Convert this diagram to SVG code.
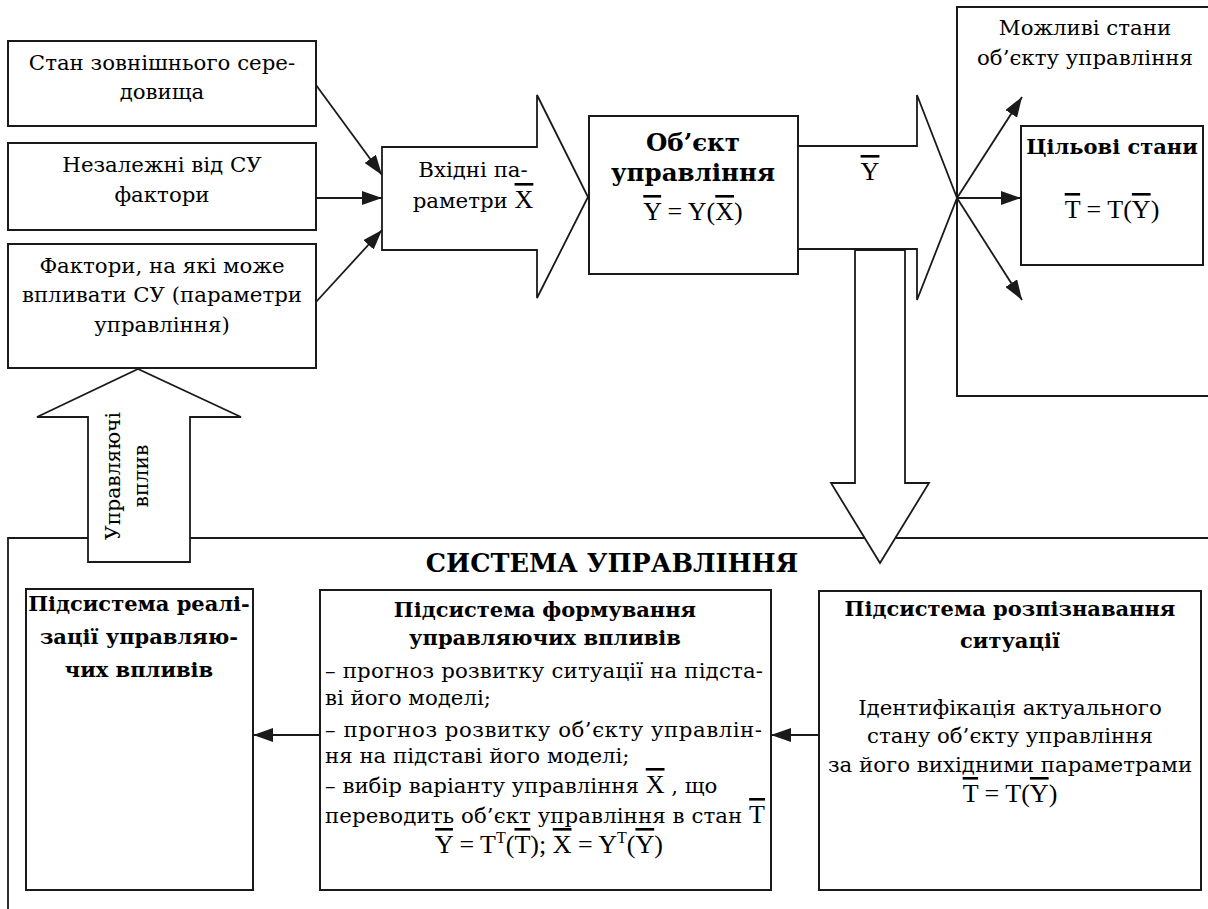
<svg xmlns="http://www.w3.org/2000/svg" width="1208" height="909" viewBox="0 0 1208 909">
<defs>
<marker id="ah" viewBox="0 0 20 14" refX="20" refY="7" markerWidth="20" markerHeight="14" markerUnits="userSpaceOnUse" orient="auto">
<path d="M0,0 L20,7 L0,14 z" fill="#1a1a1a"/>
</marker>
</defs>
<rect width="1208" height="909" fill="#fff"/>

<g id="states-area" font-family="DejaVu Serif" font-size="21.3" text-anchor="middle">
<rect x="957" y="7" width="270" height="389" fill="#fff" stroke="#1a1a1a" stroke-width="2"/>
<text x="1085" y="35">Можливі стани</text>
<text x="1085" y="65">об’єкту управління</text>
</g>

<g id="system" font-family="DejaVu Serif" text-anchor="middle">
<path d="M1230,538 H8 V930" fill="none" stroke="#1a1a1a" stroke-width="1.8"/>
<text x="612" y="572" font-size="25.5" font-weight="bold">СИСТЕМА УПРАВЛІННЯ</text>
</g>

<g id="n-env" font-family="DejaVu Serif" font-size="21.3" text-anchor="middle">
<rect x="8" y="41" width="308" height="85" fill="#fff" stroke="#1a1a1a" stroke-width="2"/>
<text x="162" y="70">Стан зовнішнього сере-</text>
<text x="162" y="99">довища</text>
</g>
<g id="n-indep" font-family="DejaVu Serif" font-size="21.3" text-anchor="middle">
<rect x="8" y="143" width="308" height="87" fill="#fff" stroke="#1a1a1a" stroke-width="2"/>
<text x="162" y="172">Незалежні від СУ</text>
<text x="162" y="202">фактори</text>
</g>
<g id="n-ctrlfactors" font-family="DejaVu Serif" font-size="21.3" text-anchor="middle">
<rect x="8" y="244" width="308" height="124" fill="#fff" stroke="#1a1a1a" stroke-width="2"/>
<text x="162" y="273">Фактори, на які може</text>
<text x="162" y="302">впливати СУ (параметри</text>
<text x="162" y="332">управління)</text>
</g>

<g id="n-input" font-family="DejaVu Serif" font-size="21.3" text-anchor="middle">
<polygon points="382,147 537,147 537,95 588,197 537,298 537,250 382,250" fill="#fff" stroke="#1a1a1a" stroke-width="1.8"/>
<text x="473" y="177">Вхідні па-</text>
<text x="473" y="208">раметри <tspan font-family="Liberation Serif" font-size="26" text-decoration="overline">X</tspan></text>
</g>

<g id="n-object" text-anchor="middle">
<rect x="589" y="116" width="209" height="158" fill="#fff" stroke="#1a1a1a" stroke-width="2"/>
<text x="693" y="151" font-family="DejaVu Serif" font-size="24.5" font-weight="bold">Об’єкт</text>
<text x="693" y="181" font-family="DejaVu Serif" font-size="24.5" font-weight="bold">управління</text>
<text x="693" y="220" font-family="Liberation Serif" font-size="26"><tspan text-decoration="overline">Y</tspan> = Y(<tspan text-decoration="overline">X</tspan>)</text>
</g>

<g id="n-output" font-family="Liberation Serif" font-size="26" text-anchor="middle">
<polygon points="798,146 917,146 917,95 957,198 917,300 917,249 798,249" fill="#fff" stroke="#1a1a1a" stroke-width="1.8"/>
<text x="870" y="180"><tspan text-decoration="overline">Y</tspan></text>
</g>

<g id="n-down">
<polygon points="855,250 855,483 831,483 880,563 929,483 905,483 905,250" fill="#fff" stroke="#1a1a1a" stroke-width="1.8"/>
</g>

<g id="n-target" text-anchor="middle">
<rect x="1021" y="126" width="182" height="139" fill="#fff" stroke="#1a1a1a" stroke-width="2"/>
<text x="1112" y="154" font-family="DejaVu Serif" font-size="21" font-weight="bold">Цільові стани</text>
<text x="1112" y="218" font-family="Liberation Serif" font-size="26"><tspan text-decoration="overline">T</tspan> = T(<tspan text-decoration="overline">Y</tspan>)</text>
</g>

<g id="n-control" font-family="DejaVu Serif" font-size="20.3" text-anchor="middle">
<polygon points="88,562 88,417 37,417 138,369 241,417 190,417 190,562" fill="#fff" stroke="#1a1a1a" stroke-width="1.8"/>
<text transform="translate(120,476) rotate(-90)">Управляючі</text>
<text transform="translate(148,476) rotate(-90)">вплив</text>
</g>

<g id="n-realize" font-family="DejaVu Serif" font-size="21" font-weight="bold" text-anchor="middle">
<rect x="26" y="589" width="227" height="301" fill="#fff" stroke="#1a1a1a" stroke-width="2"/>
<text x="139" y="611">Підсистема реалі-</text>
<text x="139" y="644">зації управляю-</text>
<text x="139" y="677">чих впливів</text>
</g>

<g id="n-form" font-family="DejaVu Serif" font-size="21.3">
<rect x="320" y="590" width="451" height="300" fill="#fff" stroke="#1a1a1a" stroke-width="2"/>
<text x="545" y="617" font-size="21" font-weight="bold" text-anchor="middle">Підсистема формування</text>
<text x="545" y="645" font-size="21" font-weight="bold" text-anchor="middle">управляючих впливів</text>
<text x="325" y="678" textLength="438" lengthAdjust="spacing">– прогноз розвитку ситуації на підста-</text>
<text x="325" y="705">ві його моделі;</text>
<text x="325" y="737" textLength="437" lengthAdjust="spacing">– прогноз розвитку об’єкту управлін-</text>
<text x="325" y="763">ня на підставі його моделі;</text>
<text x="325" y="793">– вибір варіанту управління <tspan font-family="Liberation Serif" font-size="26" text-decoration="overline">X</tspan> , що</text>
<text x="325" y="823" textLength="440" lengthAdjust="spacing">переводить об’єкт управління в стан <tspan font-family="Liberation Serif" font-size="26" text-decoration="overline">T</tspan></text>
<text x="549" y="853" text-anchor="middle" font-family="Liberation Serif" font-size="26"><tspan text-decoration="overline">Y</tspan> = T<tspan font-size="16" dy="-10">T</tspan><tspan dy="10">(</tspan><tspan text-decoration="overline">T</tspan>); <tspan text-decoration="overline">X</tspan> = Y<tspan font-size="16" dy="-10">T</tspan><tspan dy="10">(</tspan><tspan text-decoration="overline">Y</tspan>)</text>
</g>

<g id="n-recog" font-family="DejaVu Serif" font-size="21.3" text-anchor="middle">
<rect x="819" y="591" width="382" height="299" fill="#fff" stroke="#1a1a1a" stroke-width="2"/>
<text x="1010" y="616" font-size="21" font-weight="bold">Підсистема розпізнавання</text>
<text x="1010" y="648" font-size="21" font-weight="bold">ситуації</text>
<text x="1010" y="715">Ідентифікація актуального</text>
<text x="1010" y="743">стану об’єкту управління</text>
<text x="1010" y="772">за його вихідними параметрами</text>
<text x="1010" y="802" font-family="Liberation Serif" font-size="26"><tspan text-decoration="overline">T</tspan> = T(<tspan text-decoration="overline">Y</tspan>)</text>
</g>

<g id="connectors" fill="none" stroke="#1a1a1a" stroke-width="1.8">
<line x1="316" y1="85" x2="382" y2="175" marker-end="url(#ah)"/>
<line x1="316" y1="198" x2="382" y2="198" marker-end="url(#ah)"/>
<line x1="316" y1="302" x2="382" y2="230" marker-end="url(#ah)"/>
<line x1="957" y1="198" x2="1022" y2="97" marker-end="url(#ah)"/>
<line x1="957" y1="198" x2="1021" y2="198" marker-end="url(#ah)"/>
<line x1="957" y1="198" x2="1022" y2="300" marker-end="url(#ah)"/>
<line x1="819" y1="735" x2="771" y2="735" marker-end="url(#ah)"/>
<line x1="320" y1="735" x2="253" y2="735" marker-end="url(#ah)"/>
</g>
</svg>
